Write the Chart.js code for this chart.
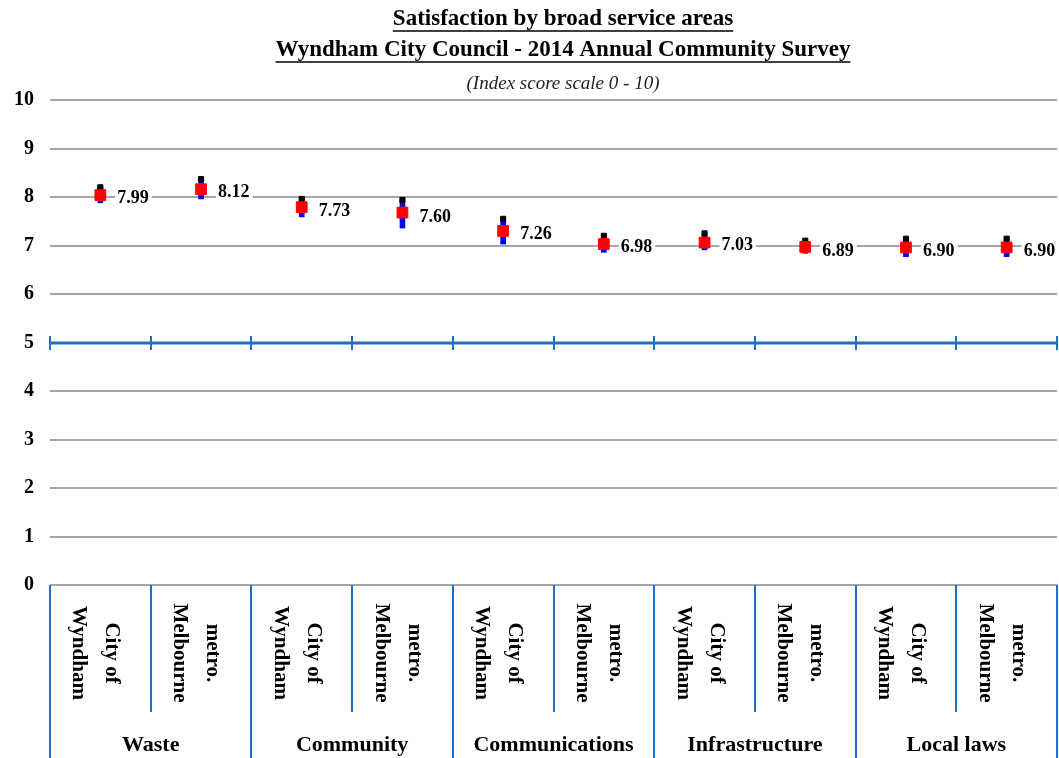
<!DOCTYPE html>
<html>
<head>
<meta charset="utf-8">
<script src="https://cdn.jsdelivr.net/npm/chart.js@4/dist/chart.umd.min.js"></script>
<style>
  body { margin: 0; background: #fff; }
  canvas { display: block; }
</style>
</head>
<body>
<canvas id="chart" width="1059" height="758"></canvas>
<script>
// sub-categories (two lines each) and their groups
const subLabels = [
  ["City of", "Wyndham"], ["metro.", "Melbourne"],
  ["City of", "Wyndham"], ["metro.", "Melbourne"],
  ["City of", "Wyndham"], ["metro.", "Melbourne"],
  ["City of", "Wyndham"], ["metro.", "Melbourne"],
  ["City of", "Wyndham"], ["metro.", "Melbourne"]
];
const groups = ["Waste", "Community", "Communications", "Infrastructure", "Local laws"];

// index scores (printed labels)
const scores = [7.99, 8.12, 7.73, 7.60, 7.26, 6.98, 7.03, 6.89, 6.90, 6.90];
// red marker position, upper and lower ends of the range line
const markerMid = [8.04, 8.16, 7.79, 7.68, 7.30, 7.03, 7.06, 6.97, 6.96, 6.96];
const rangeHigh = [8.20, 8.37, 7.96, 7.94, 7.55, 7.20, 7.25, 7.10, 7.14, 7.14];
const rangeLow  = [7.88, 7.96, 7.59, 7.36, 7.03, 6.86, 6.91, 6.84, 6.77, 6.77];

const yTicks = [0, 1, 2, 3, 4, 5, 6, 7, 8, 9, 10];
const titleLines = [
  "Satisfaction by broad service areas",
  "Wyndham City Council - 2014 Annual Community Survey"
];
const subtitle = "(Index score scale 0 - 10)";

const SERIF = "'Liberation Serif', 'DejaVu Serif', serif";
const AXIS_BLUE = "#1f6fca";

const decorations = {
  id: "decorations",
  afterDatasetsDraw(chart) {
    const ctx = chart.ctx;
    const x = chart.scales.x;
    const y = chart.scales.y;
    const area = chart.chartArea;
    const n = subLabels.length;
    const step = (area.right - area.left) / n;

    ctx.save();

    // horizontal category axis crossing at 5
    const y5 = Math.round(y.getPixelForValue(5));
    ctx.strokeStyle = AXIS_BLUE;
    ctx.lineWidth = 3;
    ctx.beginPath();
    ctx.moveTo(area.left, y5);
    ctx.lineTo(area.right, y5);
    ctx.stroke();
    ctx.lineWidth = 2;
    for (let i = 0; i <= n; i++) {
      const bx = Math.round(x.getPixelForValue(i) - step / 2);
      ctx.beginPath();
      ctx.moveTo(bx, y5 - 7);
      ctx.lineTo(bx, y5 + 7);
      ctx.stroke();
    }

    // value labels
    ctx.font = "bold 18px " + SERIF;
    ctx.textBaseline = "middle";
    ctx.textAlign = "left";
    scores.forEach((v, i) => {
      const txt = v.toFixed(2);
      const tx = x.getPixelForValue(i) + 17;
      const ty = y.getPixelForValue(v);
      const w = ctx.measureText(txt).width;
      ctx.fillStyle = "#fff";
      ctx.fillRect(tx - 2, ty - 10, w + 5, 20);
      ctx.fillStyle = "#000";
      ctx.fillText(txt, tx, ty + 1);
    });

    // separators below the plot
    const y0 = Math.round(y.getPixelForValue(0));
    ctx.strokeStyle = AXIS_BLUE;
    ctx.lineWidth = 2;
    for (let i = 0; i <= n; i++) {
      const bx = Math.round(x.getPixelForValue(i) - step / 2);
      ctx.beginPath();
      ctx.moveTo(bx, y0);
      ctx.lineTo(bx, i % 2 === 0 ? chart.height : 712);
      ctx.stroke();
    }

    // rotated sub-category labels
    ctx.fillStyle = "#000";
    ctx.font = "bold 21px " + SERIF;
    ctx.textAlign = "center";
    ctx.textBaseline = "middle";
    subLabels.forEach((lines, i) => {
      const cx = x.getPixelForValue(i) - 5;
      lines.forEach((line, j) => {
        const off = (j - (lines.length - 1) / 2) * 33;
        ctx.save();
        ctx.translate(cx - off, 653);
        ctx.rotate(Math.PI / 2);
        ctx.fillText(line, 0, 0);
        ctx.restore();
      });
    });

    // group labels
    ctx.font = "bold 22px " + SERIF;
    groups.forEach((g, k) => {
      const gx = (x.getPixelForValue(2 * k) + x.getPixelForValue(2 * k + 1)) / 2;
      ctx.fillText(g, gx, 745);
    });

    // titles
    const tcx = 563;
    ctx.font = "bold 23px " + SERIF;
    ctx.lineWidth = 1.5;
    ctx.strokeStyle = "#000";
    [19, 50].forEach((ty, k) => {
      const t = titleLines[k];
      ctx.fillText(t, tcx, ty);
      const w = ctx.measureText(t).width;
      ctx.beginPath();
      ctx.moveTo(tcx - w / 2, ty + 12);
      ctx.lineTo(tcx + w / 2, ty + 12);
      ctx.stroke();
    });
    ctx.font = "italic 19px " + SERIF;
    ctx.fillStyle = "#222";
    ctx.fillText(subtitle, tcx, 84);

    ctx.restore();
  }
};

new Chart(document.getElementById("chart"), {
  type: "bar",
  data: {
    labels: subLabels.map(l => l.join(" ")),
    datasets: [
      {
        type: "line",
        label: "Index score",
        data: markerMid,
        showLine: false,
        pointStyle: "rect",
        pointRadius: 7.6,
        backgroundColor: "#ff0000",
        borderColor: "#ff0000",
        borderWidth: 1,
        order: 0
      },
      {
        type: "line",
        label: "High",
        data: rangeHigh,
        showLine: false,
        pointStyle: "rect",
        pointRadius: 3.6,
        backgroundColor: "#000000",
        borderColor: "#000000",
        borderWidth: 1,
        order: 1
      },
      {
        type: "bar",
        label: "Range",
        data: rangeLow.map((lo, i) => [lo, rangeHigh[i]]),
        backgroundColor: "#0000ff",
        barThickness: 5,
        grouped: false,
        order: 2
      }
    ]
  },
  options: {
    responsive: false,
    animation: false,
    devicePixelRatio: 1,
    layout: { autoPadding: false, padding: { top: 100, bottom: 173, left: 0, right: 2 } },
    plugins: {
      legend: { display: false },
      tooltip: { enabled: false },
      title: { display: false }
    },
    scales: {
      x: { display: false },
      y: {
        min: 0,
        max: 10,
        afterBuildTicks: s => { s.ticks = yTicks.map(v => ({ value: v })); },
        afterFit: s => { s.width = 50; },
        border: { display: false },
        grid: { color: "#a6a6a6", lineWidth: 2, drawTicks: false },
        ticks: {
          color: "#000",
          padding: 16,
          font: { family: SERIF, weight: "bold", size: 20 }
        }
      }
    }
  },
  plugins: [decorations]
});
</script>
</body>
</html>
